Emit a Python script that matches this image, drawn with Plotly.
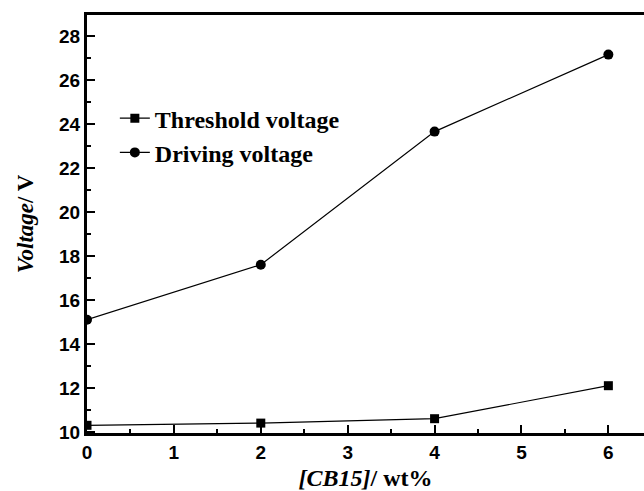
import plotly.graph_objects as go

cb15 = [0, 2, 4, 6]
threshold = [10.3, 10.4, 10.6, 12.1]
driving = [15.1, 17.6, 23.65, 27.15]

fig = go.Figure()
fig.add_trace(go.Scatter(x=cb15, y=threshold, mode="lines+markers", name="Threshold voltage",
                         line=dict(color="black", width=1.2),
                         marker=dict(symbol="square", size=9, color="black")))
fig.add_trace(go.Scatter(x=cb15, y=driving, mode="lines+markers", name="Driving voltage",
                         line=dict(color="black", width=1.2),
                         marker=dict(symbol="circle", size=10, color="black")))

axis_common = dict(showgrid=False, zeroline=False, showline=True, linecolor="black", linewidth=3,
                   ticks="inside", ticklen=8, tickwidth=2, tickcolor="black",
                   tickfont=dict(family="Liberation Sans", size=19, color="black", weight="bold"))

fig.update_layout(
    width=644, height=491,
    margin=dict(l=87, r=0, t=15, b=58),
    paper_bgcolor="white", plot_bgcolor="white",
    showlegend=True,
    legend=dict(x=0.05, y=0.806, xanchor="left", yanchor="top", bgcolor="rgba(0,0,0,0)",
                font=dict(family="Liberation Serif", size=24, color="black", weight="bold"),
                tracegroupgap=0),
    xaxis=dict(range=[0, 6.41], tickvals=[0, 1, 2, 3, 4, 5, 6], mirror=True,
               minor=dict(dtick=0.5, ticks="inside", ticklen=4, tickwidth=2, tickcolor="black"),
               title=dict(text="<b><i>[CB15]</i>/ wt%</b>", standoff=12,
                          font=dict(family="Liberation Serif", size=24, color="black")),
               **axis_common),
    yaxis=dict(range=[9.95, 28.95], tickvals=[10, 12, 14, 16, 18, 20, 22, 24, 26, 28], mirror=False,
               minor=dict(dtick=1, ticks="inside", ticklen=4, tickwidth=2, tickcolor="black"),
               title=dict(text="<b><i>Voltage</i>/ V</b>", standoff=20,
                          font=dict(family="Liberation Serif", size=23, color="black")),
               **axis_common),
)

fig.write_html("out.html")
